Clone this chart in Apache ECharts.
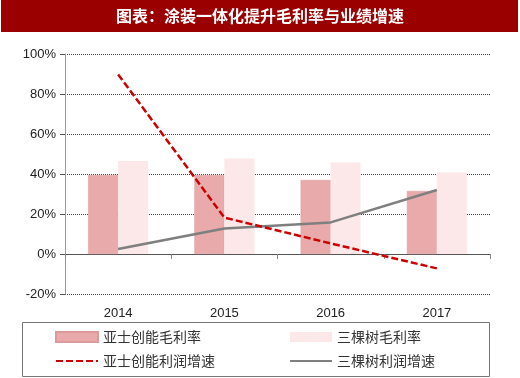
<!DOCTYPE html>
<html>
<head>
<meta charset="utf-8">
<script src="https://cdn.jsdelivr.net/npm/echarts@6/dist/echarts.min.js"></script>
<style>
html, body { margin: 0; padding: 0; background: #fff; }
#chart { width: 520px; height: 378px; }
</style>
</head>
<body>
<div id="chart"></div>
<script>
// 数据
var years = ['2014', '2015', '2016', '2017']
var yashiMargin = [39.5, 39.5, 37, 31.5]
var sankeshuMargin = [46.5, 47.8, 45.7, 40.8]
var yashiGrowth = [89.8, 18.2, 5.3, -7.2]
var sankeshuGrowth = [2.5, 12.8, 15.8, 32]
var names = ['亚士创能毛利率', '三棵树毛利率', '亚士创能利润增速', '三棵树利润增速']

var font = 'Liberation Sans, Arial, sans-serif'
var cjk = 'Noto Sans CJK SC'
var legendBase = {
  orient: 'vertical',
  top: 330,
  height: 60,
  itemWidth: 42,
  itemHeight: 10,
  itemGap: 10,
  padding: 0,
  textStyle: { fontFamily: cjk, fontSize: 14, color: '#333' },
}
var hideSymbol = { itemStyle: { opacity: 0 } }

var chart = echarts.init(document.getElementById('chart'))
chart.setOption({
  animation: false,
  graphic: [
    {
      type: 'rect',
      shape: { x: 1, y: 0, width: 517, height: 32 },
      style: { fill: '#9b0000' },
      z: 1,
    },
    {
      type: 'text',
      x: 260,
      y: 16,
      style: {
        text: '图表：涂装一体化提升毛利率与业绩增速',
        fill: '#fff',
        font: 'bold 16px "Noto Sans CJK SC"',
        align: 'center',
        verticalAlign: 'middle',
      },
      z: 2,
    },
    {
      type: 'rect',
      shape: { x: 22.5, y: 322.5, width: 467, height: 54 },
      style: { fill: 'none', stroke: '#777', lineWidth: 1 },
    },
  ],
  legend: [
    Object.assign({}, legendBase, {
      left: 55,
      data: [{ name: names[0], icon: 'rect' }, Object.assign({ name: names[2] }, hideSymbol)],
    }),
    Object.assign({}, legendBase, {
      left: 289,
      data: [{ name: names[1], icon: 'rect' }, Object.assign({ name: names[3] }, hideSymbol)],
    }),
  ],
  grid: { left: 65, right: 30, top: 54, bottom: 84 },
  xAxis: {
    type: 'category',
    data: years,
    axisLine: { onZero: true, lineStyle: { color: '#555', width: 1 } },
    axisTick: { show: true, length: 5, lineStyle: { color: '#888' } },
    axisLabel: { margin: 13, color: '#222', fontSize: 13, fontFamily: font },
  },
  yAxis: {
    type: 'value',
    min: -20,
    max: 100,
    interval: 20,
    axisLine: { show: true, lineStyle: { color: '#999' } },
    axisTick: { show: true, length: 5, lineStyle: { color: '#555' } },
    axisLabel: {
      formatter: '{value}%',
      color: '#222',
      fontSize: 13,
      fontFamily: font,
      margin: 9,
    },
    splitLine: { lineStyle: { type: 'dotted', color: '#444', width: 1 } },
  },
  series: [
    {
      name: names[0],
      type: 'bar',
      data: yashiMargin,
      barWidth: 30,
      barGap: '0%',
      itemStyle: { color: '#e8aaaa', borderColor: '#dd9a9a', borderWidth: 0.5 },
    },
    {
      name: names[1],
      type: 'bar',
      data: sankeshuMargin,
      barWidth: 30,
      barGap: '0%',
      itemStyle: { color: '#fce8e8' },
    },
    {
      name: names[2],
      type: 'line',
      data: yashiGrowth,
      symbol: 'none',
      lineStyle: { color: '#cc0000', width: 2.5, type: [7, 3] },
      itemStyle: { color: '#cc0000' },
      z: 5,
    },
    {
      name: names[3],
      type: 'line',
      data: sankeshuGrowth,
      symbol: 'none',
      lineStyle: { color: '#7f7f7f', width: 2.5 },
      itemStyle: { color: '#7f7f7f' },
      z: 4,
    },
  ],
})
</script>
</body>
</html>
